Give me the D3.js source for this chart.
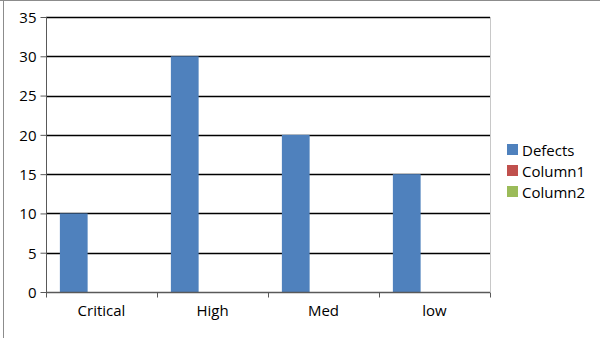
<!DOCTYPE html>
<html>
<head>
<meta charset="utf-8">
<script src="https://cdn.jsdelivr.net/npm/d3@7"></script>
<style>
  body { margin: 0; background: #fff; }
  svg text { font-family: "Open Sans", "Liberation Sans", sans-serif; font-size: 15px; fill: #000; }
</style>
</head>
<body>
<div id="chart"></div>
<script>
/*  Data  */
var categories = ["Critical", "High", "Med", "low"];
var seriesNames = ["Defects", "Column1", "Column2"];
var defects = [10, 30, 20, 15];
var column1 = [null, null, null, null];
var column2 = [null, null, null, null];
var yTicks = [0, 5, 10, 15, 20, 25, 30, 35];
var seriesColors = ["#4f81bd", "#c0504d", "#9bbb59"];

var W = 600, H = 338;
var svg = d3.select("#chart").append("svg")
            .attr("width", W)
            .attr("height", H);

// outer frame (top + left only show)
svg.append("line").attr("x1", 0).attr("y1", 0.5).attr("x2", W).attr("y2", 0.5)
   .style("stroke", "#8c8c8c").style("stroke-width", 1);
svg.append("line").attr("x1", 3.5).attr("y1", 0).attr("x2", 3.5).attr("y2", H)
   .style("stroke", "#8c8c8c").style("stroke-width", 1);

var plot = {left: 46, right: 490, top: 17, bottom: 292};

var x = d3.scaleBand().domain(categories).range([plot.left, plot.right]).padding(0);
var xs = d3.scaleBand().domain(seriesNames).range([0, x.bandwidth()])
           .paddingInner(0).paddingOuter(0.5);
var y = d3.scaleLinear().domain([0, 35]).range([plot.bottom, plot.top]);

// right border of plot area
svg.append("line")
   .attr("x1", plot.right + 0.5).attr("y1", plot.top).attr("x2", plot.right + 0.5).attr("y2", plot.bottom)
   .style("stroke", "#c8c8c8");

// gridlines
svg.append("g").selectAll("line")
   .data(yTicks.filter(function(d){ return d > 0; }))
   .enter().append("line")
   .attr("x1", plot.left).attr("x2", plot.right)
   .attr("y1", function(d){ return Math.round(y(d)) + 0.5; })
   .attr("y2", function(d){ return Math.round(y(d)) + 0.5; })
   .style("stroke", "#000").style("stroke-width", 1.3);

// bars
var seriesData = [defects, column1, column2];
seriesData.forEach(function(vals, si){
  svg.append("g").selectAll("rect")
     .data(vals.map(function(v, i){ return {c: categories[i], v: v}; }).filter(function(d){ return d.v != null; }))
     .enter().append("rect")
     .attr("x", function(d){ return x(d.c) + xs(seriesNames[si]); })
     .attr("width", xs.bandwidth())
     .attr("y", function(d){ return y(d.v); })
     .attr("height", function(d){ return y(0) - y(d.v); })
     .style("fill", seriesColors[si]);
});

// y axis
var yAxis = svg.append("g")
   .attr("transform", "translate(" + (plot.left + 0.5) + ",0)")
   .call(d3.axisLeft(y).tickValues(yTicks).tickSize(6).tickPadding(4));
yAxis.select(".domain").style("stroke", "#595959").attr("d", "M0," + plot.top + "V" + plot.bottom);
yAxis.selectAll(".tick line").style("stroke", "#595959");
yAxis.selectAll("text").style("font-size", "15px").attr("dy", "0.36em");

// x axis
var xAxis = svg.append("g")
   .attr("transform", "translate(0," + (plot.bottom + 0.5) + ")")
   .call(d3.axisBottom(x).tickSize(0).tickPadding(13));
xAxis.select(".domain").style("stroke", "#595959").style("stroke-width", 1.5)
     .attr("d", "M" + plot.left + ",0H" + plot.right);
xAxis.selectAll(".tick text").style("font-size", "15px");
// boundary ticks
xAxis.append("g").selectAll("line")
     .data(categories.concat(["end"]))
     .enter().append("line")
     .attr("x1", function(d, i){ return Math.round(plot.left + i * x.bandwidth()) + 0.5; })
     .attr("x2", function(d, i){ return Math.round(plot.left + i * x.bandwidth()) + 0.5; })
     .attr("y1", 0).attr("y2", 5)
     .style("stroke", "#595959");

// legend
var legend = svg.append("g").attr("transform", "translate(507,144)");
seriesNames.forEach(function(name, i){
  var g = legend.append("g").attr("transform", "translate(0," + (i * 21) + ")");
  g.append("rect").attr("width", 11).attr("height", 11).style("fill", seriesColors[i]);
  g.append("text").attr("x", 15).attr("y", 11.5).text(name);
});
</script>
</body>
</html>
